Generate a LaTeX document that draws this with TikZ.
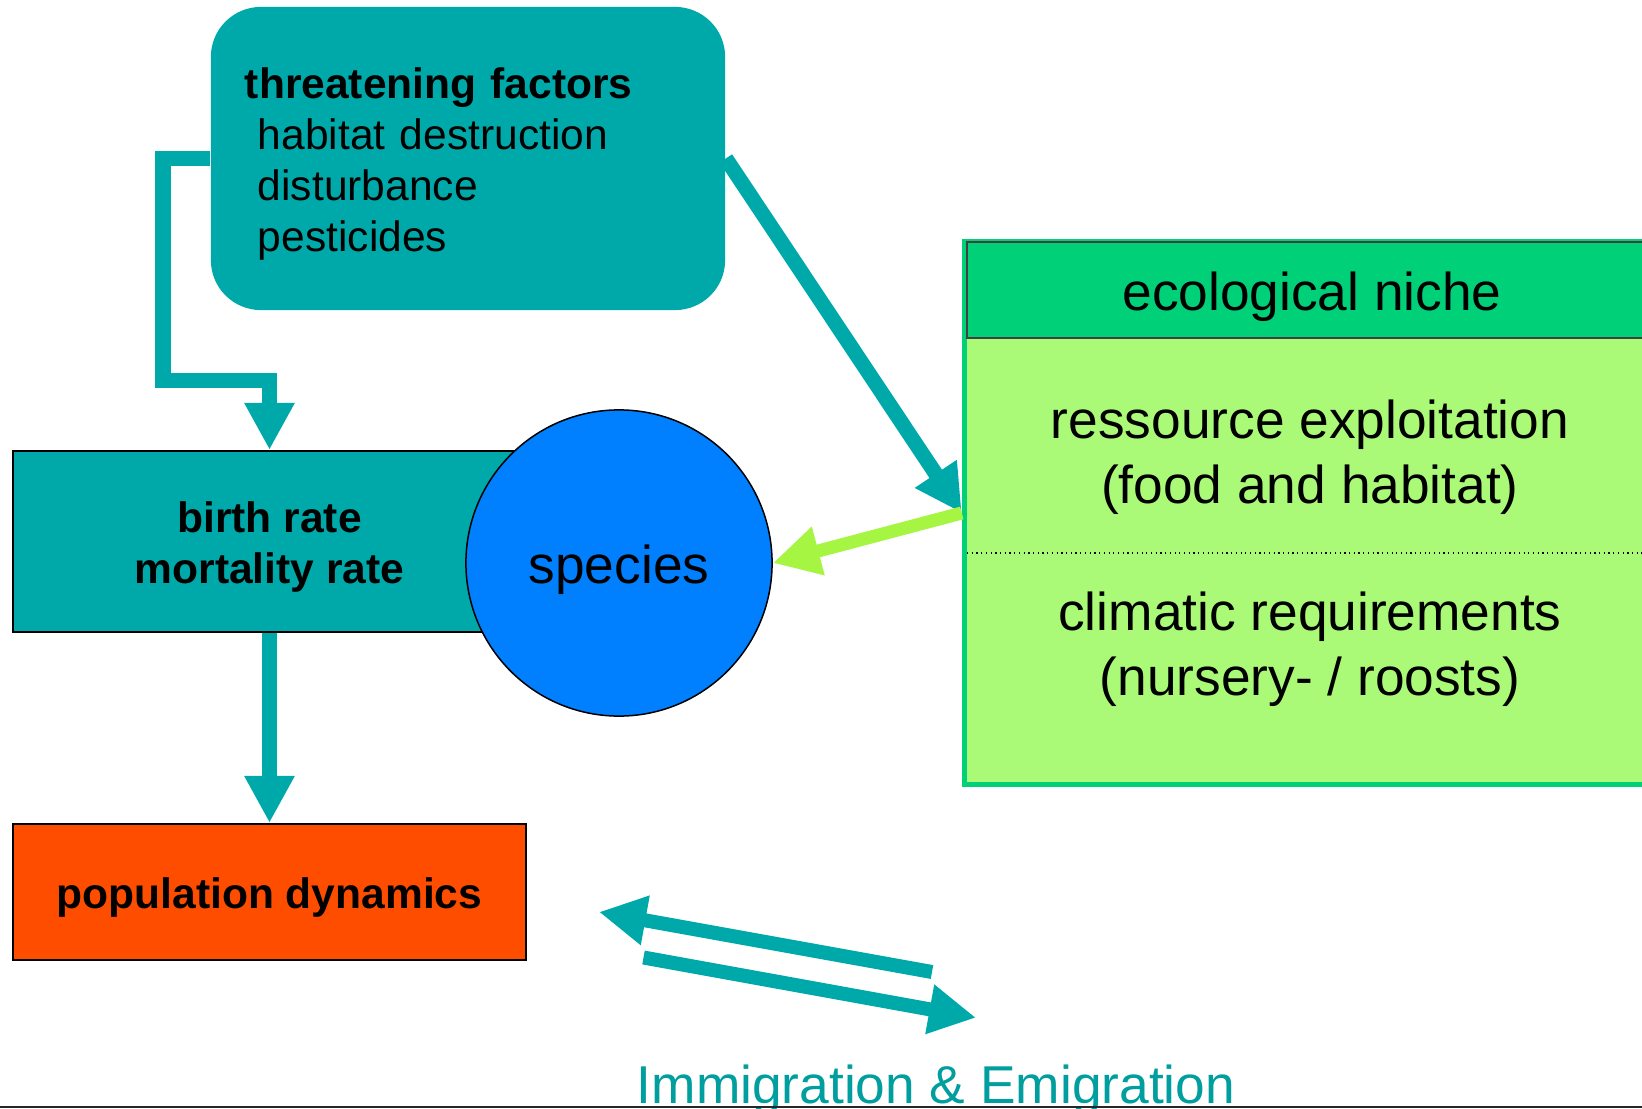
\documentclass[tikz,border=0pt]{standalone}
\usepackage{fontspec}
\setmainfont{Liberation Sans}
\usetikzlibrary{arrows.meta}

\definecolor{boxteal}{RGB}{0,169,169}
\definecolor{migrteal}{RGB}{0,158,158}
\definecolor{nichegreen}{RGB}{0,208,120}
\definecolor{nichebody}{RGB}{170,250,120}
\definecolor{limegreen}{RGB}{166,245,66}
\definecolor{popred}{RGB}{255,77,0}
\definecolor{speciesblue}{RGB}{0,128,255}

\newcommand{\linestrut}{\rule[-0.21em]{0pt}{1.2em}}

\begin{document}
\begin{tikzpicture}[x=0.01cm, y=-0.01cm,
			threatnode/.style={rectangle, rounded corners=0.5cm, fill=boxteal, minimum height=3.03cm, text width=4.46cm, inner xsep=0.34cm, inner ysep=0pt, align=left, font=\fontsize{12.1pt}{14.5pt}\selectfont},
			ratenode/.style={rectangle, draw=black, line width=0.02cm, minimum width=5.13cm, inner sep=0pt, align=center, font=\fontsize{12.1pt}{14.7pt}\selectfont\bfseries},
			roundnode/.style={circle, draw=black, line width=0.015cm, fill=speciesblue, minimum size=3.06cm, inner sep=0pt, font=\fontsize{15.15pt}{18.35pt}\selectfont},
			nicheframe/.style={rectangle, draw=nichegreen, line width=0.05cm, fill=nichebody, minimum width=6.95cm, minimum height=5.43cm, inner sep=0pt},
			nichehead/.style={rectangle, draw=black!75, line width=0.02cm, fill=nichegreen, minimum width=6.9cm, minimum height=0.96cm, inner sep=0pt, font=\fontsize{15.15pt}{18.35pt}\selectfont},
			nichetext/.style={align=center, inner sep=0pt, font=\fontsize{15.15pt}{18.35pt}\selectfont},
			tealarrow/.style={draw=boxteal, line width=0.15cm, line join=miter, -{Triangle[length=0.47cm, width=0.47cm]}},
			limearrow/.style={draw=limegreen, line width=0.13cm, -{Triangle[length=0.47cm, width=0.47cm]}},
			migrarrow/.style={draw=boxteal, line width=0.14cm, -{Triangle[length=0.47cm, width=0.47cm]}}
			]
			
			\useasboundingbox (0,0) rectangle (1642,1109);
			
			\node[threatnode] at (468, 158.5) (threat) {\linestrut\textbf{threatening factors}\\\hspace*{0.13cm}habitat destruction\\\hspace*{0.13cm}disturbance\\\hspace*{0.13cm}pesticides\linestrut};
			\node[ratenode, fill=boxteal, minimum height=1.81cm] at (269.5, 541.5) (birth) {\linestrut birth rate\\mortality rate\linestrut};
			\node[roundnode] at (619, 563) (species) {\linestrut species};
			\node[ratenode, fill=popred, minimum height=1.36cm] at (269.5, 892) (pop) {\linestrut population dynamics};
			
			\node[nicheframe] at (1312, 513) (niche) {};
			\node[nichehead] at (1312, 290) (head) {\linestrut ecological niche};
			\node[nichetext] at (1310, 450) (resource) {\linestrut ressource exploitation\\(food and habitat)\linestrut};
			\node[nichetext] at (1310, 642) (climate) {\linestrut climatic requirements\\(nursery- / roosts)\linestrut};
			\draw[densely dotted, line width=0.012cm] (967, 553) -- (1642, 553);
			
			\coordinate (bend) at (163, 380);
			\draw[tealarrow] (threat.west) -| (bend) -| (birth.north);
			\draw[tealarrow] (birth.south) -- (pop.north);
			\draw[tealarrow] (threat.east) -- (niche.west);
			\draw[limearrow] (niche.west) -- (species.east);
			
			\coordinate (immi-from) at (932, 972);
			\coordinate (immi-to) at (599, 912);
			\coordinate (emi-from) at (643.5, 957.5);
			\coordinate (emi-to) at (976, 1017.7);
			\draw[migrarrow] (immi-from) -- (immi-to);
			\draw[migrarrow] (emi-from) -- (emi-to);
			
			\node[anchor=base, inner sep=0pt, text=migrteal, font=\fontsize{15.15pt}{18.35pt}\selectfont] at (936, 1103) (migr) {Immigration \& Emigration};
			\draw[black!85, line width=0.02cm] (0, 1107) -- (1642, 1107);
		\end{tikzpicture}
\end{document}
